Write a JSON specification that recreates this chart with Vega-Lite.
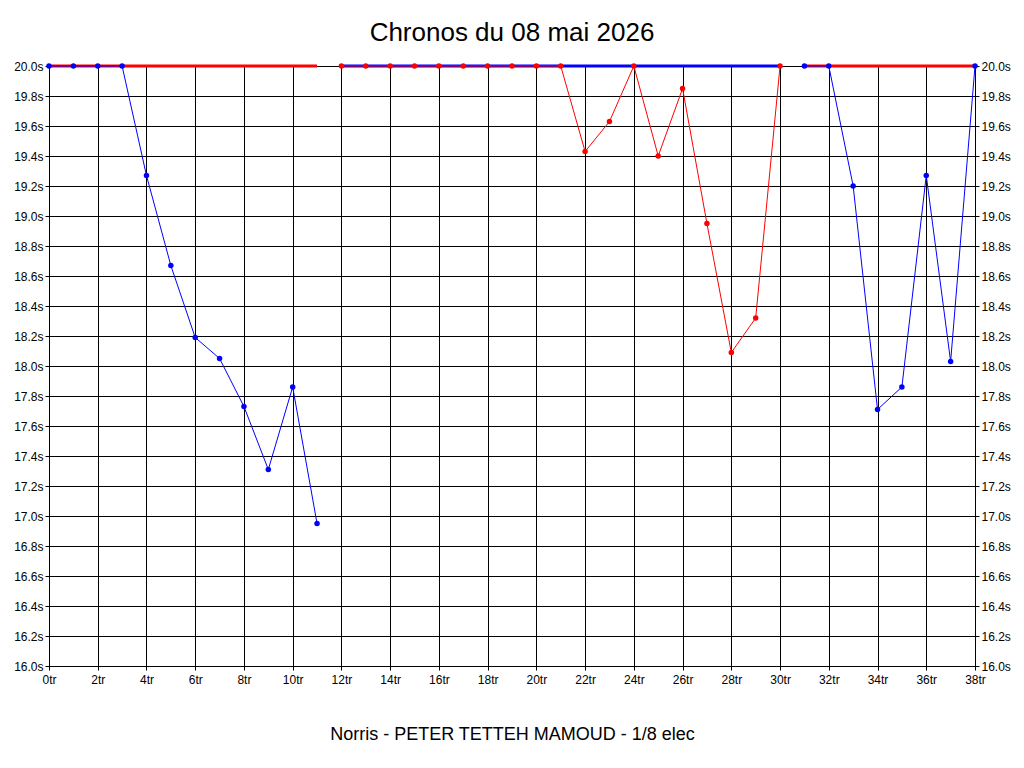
{
  "$schema": "https://vega.github.io/schema/vega-lite/v6.json",
  "width": 926,
  "height": 600,
  "autosize": "none",
  "padding": {"left": 49, "top": 66, "right": 49, "bottom": 102},
  "background": "white",
  "title": {"text": "Chronos du 08 mai 2026", "fontSize": 26, "font": "Liberation Sans", "fontWeight": "normal", "color": "black", "offset": 14, "anchor": "middle"},
  "datasets": {
    "ref": [
      {"tr": 0, "t": 20, "part": "p1", "coul": "rouge"},
      {"tr": 11, "t": 20, "part": "p1", "coul": "rouge"},
      {"tr": 12, "t": 20, "part": "p2", "coul": "bleu"},
      {"tr": 30, "t": 20, "part": "p2", "coul": "bleu"},
      {"tr": 31, "t": 20, "part": "p3", "coul": "rouge"},
      {"tr": 38, "t": 20, "part": "p3", "coul": "rouge"}
    ],
    "chronos": [
      {"tr": 0, "t": 20.0, "serie": "A", "coul": "bleu"},
      {"tr": 1, "t": 20.0, "serie": "A", "coul": "bleu"},
      {"tr": 2, "t": 20.0, "serie": "A", "coul": "bleu"},
      {"tr": 3, "t": 20.0, "serie": "A", "coul": "bleu"},
      {"tr": 4, "t": 19.27, "serie": "A", "coul": "bleu"},
      {"tr": 5, "t": 18.67, "serie": "A", "coul": "bleu"},
      {"tr": 6, "t": 18.19, "serie": "A", "coul": "bleu"},
      {"tr": 7, "t": 18.05, "serie": "A", "coul": "bleu"},
      {"tr": 8, "t": 17.73, "serie": "A", "coul": "bleu"},
      {"tr": 9, "t": 17.31, "serie": "A", "coul": "bleu"},
      {"tr": 10, "t": 17.86, "serie": "A", "coul": "bleu"},
      {"tr": 11, "t": 16.95, "serie": "A", "coul": "bleu"},
      {"tr": 12, "t": 20.0, "serie": "B", "coul": "rouge"},
      {"tr": 13, "t": 20.0, "serie": "B", "coul": "rouge"},
      {"tr": 14, "t": 20.0, "serie": "B", "coul": "rouge"},
      {"tr": 15, "t": 20.0, "serie": "B", "coul": "rouge"},
      {"tr": 16, "t": 20.0, "serie": "B", "coul": "rouge"},
      {"tr": 17, "t": 20.0, "serie": "B", "coul": "rouge"},
      {"tr": 18, "t": 20.0, "serie": "B", "coul": "rouge"},
      {"tr": 19, "t": 20.0, "serie": "B", "coul": "rouge"},
      {"tr": 20, "t": 20.0, "serie": "B", "coul": "rouge"},
      {"tr": 21, "t": 20.0, "serie": "B", "coul": "rouge"},
      {"tr": 22, "t": 19.43, "serie": "B", "coul": "rouge"},
      {"tr": 23, "t": 19.63, "serie": "B", "coul": "rouge"},
      {"tr": 24, "t": 20.0, "serie": "B", "coul": "rouge"},
      {"tr": 25, "t": 19.40, "serie": "B", "coul": "rouge"},
      {"tr": 26, "t": 19.85, "serie": "B", "coul": "rouge"},
      {"tr": 27, "t": 18.95, "serie": "B", "coul": "rouge"},
      {"tr": 28, "t": 18.09, "serie": "B", "coul": "rouge"},
      {"tr": 29, "t": 18.32, "serie": "B", "coul": "rouge"},
      {"tr": 30, "t": 20.0, "serie": "B", "coul": "rouge"},
      {"tr": 31, "t": 20.0, "serie": "C", "coul": "bleu"},
      {"tr": 32, "t": 20.0, "serie": "C", "coul": "bleu"},
      {"tr": 33, "t": 19.2, "serie": "C", "coul": "bleu"},
      {"tr": 34, "t": 17.71, "serie": "C", "coul": "bleu"},
      {"tr": 35, "t": 17.86, "serie": "C", "coul": "bleu"},
      {"tr": 36, "t": 19.27, "serie": "C", "coul": "bleu"},
      {"tr": 37, "t": 18.03, "serie": "C", "coul": "bleu"},
      {"tr": 38, "t": 20.0, "serie": "C", "coul": "bleu"}
    ]
  },
  "encoding": {
    "x": {
      "field": "tr", "type": "quantitative",
      "scale": {"domain": [0, 38], "nice": false, "zero": false},
      "axis": {
        "values": [0, 2, 4, 6, 8, 10, 12, 14, 16, 18, 20, 22, 24, 26, 28, 30, 32, 34, 36, 38],
        "labelExpr": "datum.value + 'tr'",
        "labelFlush": false,
        "title": "Norris - PETER TETTEH MAMOUD - 1/8 elec",
        "titleFontSize": 18, "titleFontWeight": "normal", "titlePadding": 40,
        "labelFontSize": 12, "labelPadding": 4
      }
    },
    "y": {
      "field": "t", "type": "quantitative",
      "scale": {"domain": [16, 20], "nice": false, "zero": false}
    },
    "color": {
      "field": "coul", "type": "nominal",
      "scale": {"domain": ["bleu", "rouge"], "range": ["#0000ff", "#ff0000"]},
      "legend": null
    }
  },
  "layer": [
    {
      "data": {"name": "ref"},
      "mark": {"type": "line", "strokeWidth": 3},
      "encoding": {
        "detail": {"field": "part"},
        "y": {"field": "t", "type": "quantitative", "scale": {"domain": [16, 20], "nice": false, "zero": false},
          "axis": {"orient": "left", "values": [16, 16.2, 16.4, 16.6, 16.8, 17, 17.2, 17.4, 17.6, 17.8, 18, 18.2, 18.4, 18.6, 18.8, 19, 19.2, 19.4, 19.6, 19.8, 20], "labelExpr": "format(datum.value, '.1f') + 's'", "labelFlush": false, "title": null, "labelFontSize": 12}}
      }
    },
    {
      "data": {"name": "chronos"},
      "mark": {"type": "line", "strokeWidth": 1, "point": {"size": 30, "filled": true}},
      "encoding": {
        "detail": {"field": "serie"},
        "y": {"field": "t", "type": "quantitative", "scale": {"domain": [16, 20], "nice": false, "zero": false},
          "axis": {"orient": "right", "values": [16, 16.2, 16.4, 16.6, 16.8, 17, 17.2, 17.4, 17.6, 17.8, 18, 18.2, 18.4, 18.6, 18.8, 19, 19.2, 19.4, 19.6, 19.8, 20], "labelExpr": "format(datum.value, '.1f') + 's'", "labelFlush": false, "title": null, "labelFontSize": 12, "grid": false}}
      }
    }
  ],
  "resolve": {"axis": {"y": "independent"}},
  "config": {
    "font": "Liberation Sans",
    "view": {"stroke": "black", "strokeWidth": 1},
    "axis": {
      "gridColor": "black", "gridOpacity": 1, "gridWidth": 1,
      "domainColor": "black", "tickColor": "black", "tickSize": 4,
      "labelColor": "black", "titleColor": "black"
    }
  }
}
